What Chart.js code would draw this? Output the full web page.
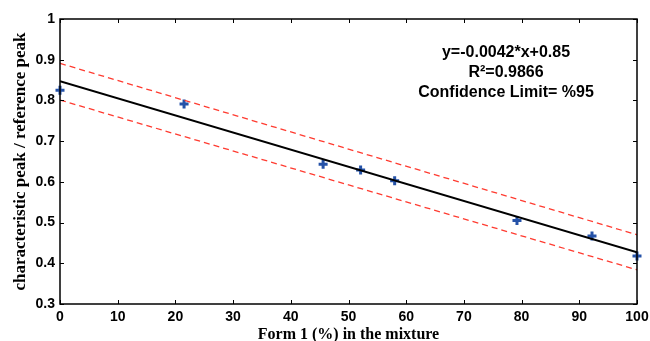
<!DOCTYPE html>
<html>
<head>
<meta charset="utf-8">
<script src="https://cdn.jsdelivr.net/npm/chart.js@4/dist/chart.umd.min.js"></script>
<style>
  html, body { margin: 0; padding: 0; background: #fff; }
  #wrap { width: 650px; height: 341px; }
</style>
</head>
<body>
<div id="wrap"><canvas id="chart"></canvas></div>
<script>
// Measured points
const formPct = [0, 21.5, 45.6, 52.1, 58.0, 79.2, 92.2, 100];
const peakRatio = [0.825, 0.791, 0.643, 0.629, 0.603, 0.505, 0.467, 0.418];

// Fitted line and 95% confidence band (end points)
const fitX = [0, 100];
const fitY = [0.847, 0.427];
const upperY = [0.891, 0.470];
const lowerY = [0.801, 0.384];

const xTicks = [0, 10, 20, 30, 40, 50, 60, 70, 80, 90, 100];
const yTicks = [0.3, 0.4, 0.5, 0.6, 0.7, 0.8, 0.9, 1];

const noteLines = ['y=-0.0042*x+0.85', 'R\u00B2=0.9866', 'Confidence Limit= %95'];

const toPts = (xs, ys) => xs.map((x, i) => ({ x: x, y: ys[i] }));

// box around plot + inward ticks on all four sides + equation text
const frame = {
    id: 'frame',
    afterDatasetsDraw(chart) {
        const { ctx, chartArea: a, scales } = chart;
        const tl = 4;
        ctx.save();
        ctx.strokeStyle = '#000';
        ctx.lineWidth = 1.5;
        ctx.strokeRect(a.left, a.top, a.right - a.left, a.bottom - a.top);
        ctx.lineWidth = 1;
        ctx.beginPath();
        xTicks.forEach(v => {
            const px = Math.round(scales.x.getPixelForValue(v)) + 0.5;
            ctx.moveTo(px, a.bottom); ctx.lineTo(px, a.bottom - tl);
            ctx.moveTo(px, a.top); ctx.lineTo(px, a.top + tl);
        });
        yTicks.forEach(v => {
            const py = Math.round(scales.y.getPixelForValue(v)) + 0.5;
            ctx.moveTo(a.left, py); ctx.lineTo(a.left + tl, py);
            ctx.moveTo(a.right, py); ctx.lineTo(a.right - tl, py);
        });
        ctx.stroke();

        // equation note
        ctx.fillStyle = '#000';
        ctx.font = 'bold 16px "Liberation Sans", Arial, sans-serif';
        ctx.textAlign = 'center';
        ctx.textBaseline = 'middle';
        const cx = scales.x.getPixelForValue(77.3);
        const cy = scales.y.getPixelForValue(0.918);
        noteLines.forEach((t, i) => ctx.fillText(t, cx, cy + i * 20));
        ctx.restore();
    }
};

new Chart(document.getElementById('chart'), {
    type: 'scatter',
    data: {
        datasets: [
            {
                label: 'fit',
                type: 'line',
                data: toPts(fitX, fitY),
                borderColor: '#000',
                borderWidth: 2,
                pointRadius: 0,
                fill: false
            },
            {
                label: 'upper',
                type: 'line',
                data: toPts(fitX, upperY),
                borderColor: '#ff3b30',
                borderWidth: 1.3,
                borderDash: [6, 4],
                pointRadius: 0,
                fill: false
            },
            {
                label: 'lower',
                type: 'line',
                data: toPts(fitX, lowerY),
                borderColor: '#ff3b30',
                borderWidth: 1.3,
                borderDash: [6, 4],
                pointRadius: 0,
                fill: false
            },
            {
                label: 'samples',
                data: toPts(formPct, peakRatio),
                pointStyle: 'cross',
                pointRadius: 4.5,
                borderWidth: 3,
                borderColor: '#2552a8',
                backgroundColor: '#2552a8',
                clip: false
            }
        ]
    },
    options: {
        responsive: true,
        maintainAspectRatio: false,
        animation: false,
        layout: { padding: { left: 0, right: 13, top: 19, bottom: 0 } },
        plugins: { legend: { display: false }, tooltip: { enabled: false } },
        scales: {
            x: {
                type: 'linear',
                min: 0, max: 100,
                afterBuildTicks: s => { s.ticks = xTicks.map(v => ({ value: v })); },
                afterFit: s => { s.height = 37; s.paddingRight = 0; s.paddingLeft = 0; },
                grid: { display: false, drawTicks: false },
                border: { display: false },
                ticks: {
                    padding: 5,
                    color: '#000',
                    font: { family: '"Liberation Sans", Arial, sans-serif', size: 14, weight: 'bold' }
                },
                title: {
                    display: true,
                    text: 'Form 1 (%) in the mixture',
                    color: '#000',
                    padding: { top: 0, bottom: -3 },
                    font: { family: '"Liberation Serif", "Times New Roman", serif', size: 16, weight: 'bold', lineHeight: 1.1 }
                }
            },
            y: {
                type: 'linear',
                min: 0.3, max: 1,
                afterBuildTicks: s => { s.ticks = yTicks.map(v => ({ value: v })); },
                afterFit: s => { s.width = 60; s.paddingTop = 0; s.paddingBottom = 0; },
                grid: { display: false, drawTicks: false },
                border: { display: false },
                ticks: {
                    padding: 5,
                    color: '#000',
                    callback: v => String(Math.round(v * 10) / 10),
                    font: { family: '"Liberation Sans", Arial, sans-serif', size: 14, weight: 'bold' }
                },
                title: {
                    display: true,
                    text: 'characteristic peak / reference peak',
                    color: '#000',
                    padding: { top: 11, bottom: 0 },
                    font: { family: '"Liberation Serif", "Times New Roman", serif', size: 17, weight: 'bold', lineHeight: 1.1 }
                }
            }
        }
    },
    plugins: [frame]
});
</script>
</body>
</html>
